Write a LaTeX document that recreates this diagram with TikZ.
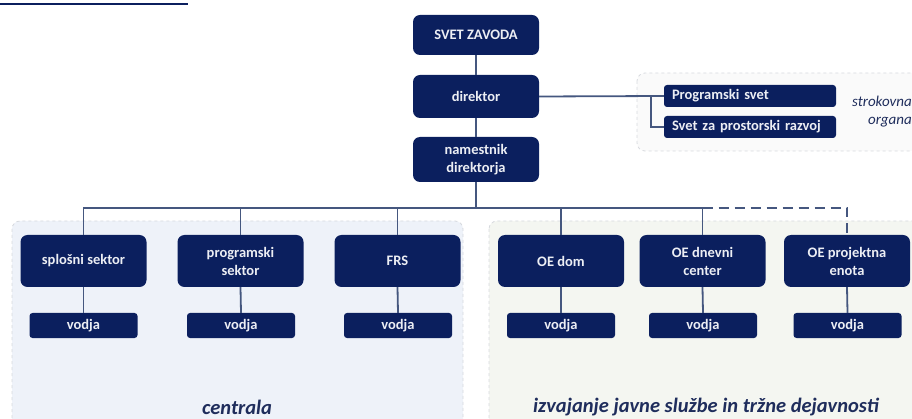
\documentclass[tikz,border=0pt]{standalone}
\usepackage{fontspec}
\setmainfont{Carlito}
\definecolor{navy}{HTML}{0B1F5E}
\definecolor{linec}{HTML}{45577F}
\definecolor{boxtext}{HTML}{ECEEF4}
\definecolor{blueback}{HTML}{EEF2F9}
\definecolor{greenback}{HTML}{F4F6F1}
\definecolor{greyback}{HTML}{FAFAFA}
\definecolor{regborder}{HTML}{D6D9DE}
\definecolor{labelc}{HTML}{1F2D5C}
\tikzset{
  unitbox/.style={draw=none, fill=navy, rounded corners=7pt, text=boxtext,
    font=\bfseries\fontsize{14.5}{18}\selectfont, align=center,
    minimum width=126pt, minimum height=#1, inner sep=2pt},
  unitbox/.default=52pt,
  leadbox/.style={draw=none, fill=navy, rounded corners=3pt, text=boxtext,
    font=\bfseries\fontsize{14.5}{18}\selectfont, align=center,
    minimum width=108pt, minimum height=25pt, inner sep=1pt},
  bodybox/.style={draw=none, fill=navy, rounded corners=3pt, text=boxtext,
    font=\bfseries\fontsize{14.5}{18}\selectfont, align=left,
    text width=156pt, minimum height=22pt, inner xsep=8pt, inner ysep=1pt},
  region/.style={draw=regborder, dashed, rounded corners=8pt, line width=0.8pt},
  conn/.style={draw=linec, line width=1.8pt},
  reglabel/.style={text=labelc, font=\bfseries\itshape\fontsize{20.5}{24}\selectfont},
}
\begin{document}
\begin{tikzpicture}[x=1pt,y=-1pt]
\useasboundingbox (0,0) rectangle (912,419);
\clip (0,0) rectangle (912,419);
% top-left underline of cut-off caption
\draw[navy, line width=1.4pt] (0,4) -- (188,4);
% regions
\draw[region, fill=blueback] (12,221) rectangle (463,440);
\draw[region, fill=greenback] (489,221) rectangle (930,440);
\draw[region, fill=greyback] (637,73) rectangle (930,151);
% top boxes
\node[unitbox=40pt] (svet) at (476,35) {SVET ZAVODA};
\node[unitbox=43pt] (dir) at (476,96.5) {direktor};
\node[unitbox=45pt] (nam) at (476,159.5) {namestnik\\direktorja};
% expert bodies
\node[bodybox] (ps) at (750,96) {Programski svet};
\node[bodybox] (spr) at (750,127) {Svet za prostorski razvoj};
\node[text=labelc, font=\itshape\fontsize{15}{18}\selectfont, align=right, anchor=west, inner sep=0pt] (strok) at (852,112) {strokovna\\organa};
% units
\node[unitbox] (spl) at (83.5,261) {splošni sektor};
\node[unitbox] (prg) at (240.5,261) {programski\\sektor};
\node[unitbox] (frs) at (397.5,261) {FRS};
\node[unitbox] (dom) at (561,261) {OE dom};
\node[unitbox] (dnv) at (702.5,261) {OE dnevni\\center};
\node[unitbox] (prj) at (847,261) {OE projektna\\enota};
% leaders
\node[leadbox] (v1) at (83.5,325.5) {vodja};
\node[leadbox] (v2) at (241,325.5) {vodja};
\node[leadbox] (v3) at (398,325.5) {vodja};
\node[leadbox] (v4) at (561,325.5) {vodja};
\node[leadbox] (v5) at (703,325.5) {vodja};
\node[leadbox] (v6) at (847.5,325.5) {vodja};
% region labels
\node[reglabel] (lc) at (237,407) {centrala};
\node[reglabel] (li) at (706,407) {izvajanje javne službe in tržne dejavnosti};
% connectors
\coordinate (busy) at (0,208);
\coordinate (branch) at (651,0);
\draw[conn] (svet.south) -- (dir.north);
\draw[conn] (dir.south) -- (nam.north);
\draw[conn] (nam.south) -- (nam.south |- busy);
\draw[conn] (spl.north) -- (spl.north |- busy) -- (dnv.north |- busy) -- (dnv.north);
\draw[conn] (prg.north) -- (prg.north |- busy);
\draw[conn] (frs.north) -- (frs.north |- busy);
\draw[conn] (dom.north) -- (dom.north |- busy);
\draw[conn, dash pattern=on 10pt off 6pt] (dnv.north |- busy) -- (prj.north |- busy) -- (prj.north);
\draw[conn] (spl.south) -- (v1.north);
\draw[conn] (prg.south) -- (v2.north);
\draw[conn] (frs.south) -- (v3.north);
\draw[conn] (dom.south) -- (v4.north);
\draw[conn] (dnv.south) -- (v5.north);
\draw[conn] (prj.south) -- (v6.north);
\draw[conn] (dir.east) -- (ps.west);
\draw[conn] (branch |- ps.west) |- (spr.west);
\end{tikzpicture}
\end{document}
